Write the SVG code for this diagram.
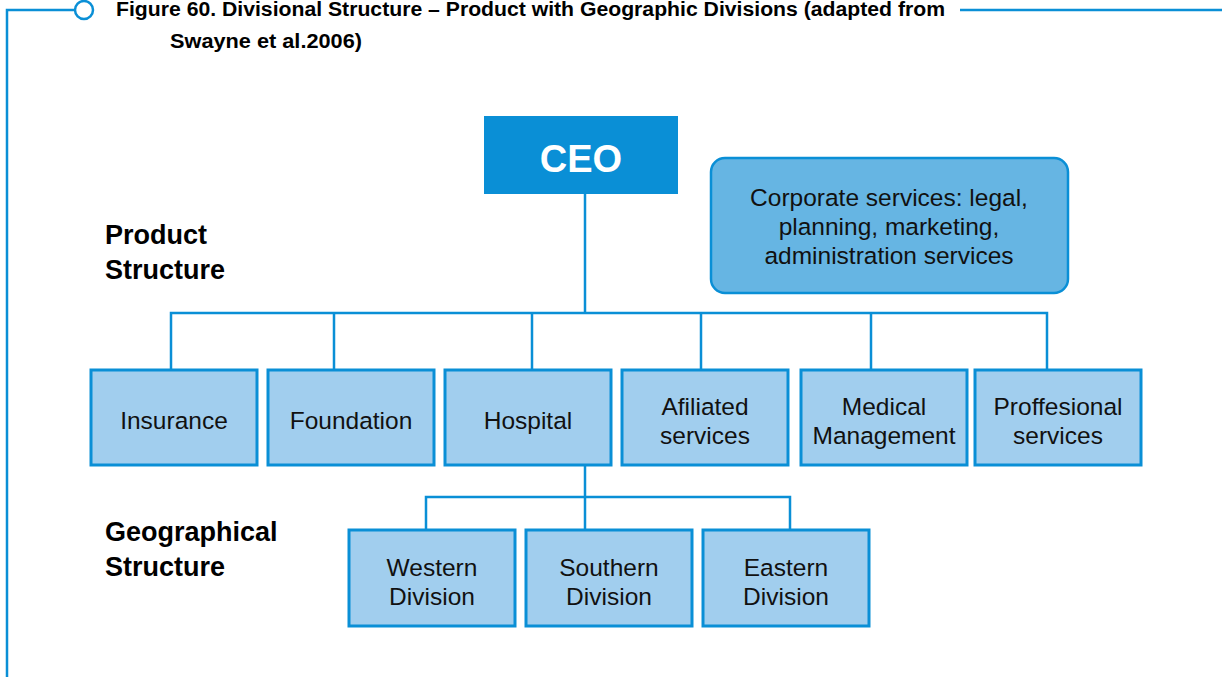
<svg xmlns="http://www.w3.org/2000/svg" width="1222" height="677" viewBox="0 0 1222 677">
<style>
.ln{stroke:#0a8fd6;stroke-width:2.5;fill:none}
.bx{fill:#a1ceee;stroke:#0a8fd6;stroke-width:3}
.t{font-family:"Liberation Sans",Arial,sans-serif;font-size:24.5px;fill:#111;text-anchor:middle}
.h{font-family:"Liberation Sans",Arial,sans-serif;font-size:27px;font-weight:bold;fill:#000}
.title{font-family:"Liberation Sans",Arial,sans-serif;font-size:20px;font-weight:bold;fill:#000}
</style>
<rect width="1222" height="677" fill="#fff"/>
<g id="frame">
<path class="ln" d="M7,677 V10 H74"/>
<circle cx="84" cy="10" r="9" fill="#fff" stroke="#0a8fd6" stroke-width="2.5"/>
<path class="ln" d="M960,10 H1222"/>
<text class="title" x="116" y="16" textLength="829" lengthAdjust="spacingAndGlyphs">Figure 60. Divisional Structure – Product with Geographic Divisions (adapted from</text>
<text class="title" x="170" y="48" textLength="192" lengthAdjust="spacingAndGlyphs">Swayne et al.2006)</text>
</g>
<g id="labels">
<text class="h" x="105" y="244">Product</text>
<text class="h" x="105" y="279">Structure</text>
<text class="h" x="105" y="541">Geographical</text>
<text class="h" x="105" y="576">Structure</text>
</g>
<g id="connectors">
<path class="ln" d="M585,194 V313"/>
<path class="ln" d="M171,370 V313 H1047 V370"/>
<path class="ln" d="M334,313 V370 M532,313 V370 M701,313 V370 M871,313 V370"/>
<path class="ln" d="M585,465 V530"/>
<path class="ln" d="M426,530 V497 H790 V530"/>
</g>
<g id="ceo">
<rect x="484" y="116" width="194" height="78" fill="#0a8fd6"/>
<text x="581" y="172" font-family="Liberation Sans,Arial,sans-serif" font-size="38" font-weight="bold" fill="#fff" text-anchor="middle">CEO</text>
</g>
<g id="corporate">
<rect x="711" y="158" width="357" height="135" rx="14" fill="#66b5e3" stroke="#0a8fd6" stroke-width="2.5"/>
<text class="t" x="889" y="206">Corporate services: legal,</text>
<text class="t" x="889" y="235">planning, marketing,</text>
<text class="t" x="889" y="264">administration services</text>
</g>
<g id="insurance"><rect class="bx" x="91" y="370" width="166" height="95"/><text class="t" x="174" y="429">Insurance</text></g>
<g id="foundation"><rect class="bx" x="268" y="370" width="166" height="95"/><text class="t" x="351" y="429">Foundation</text></g>
<g id="hospital"><rect class="bx" x="445" y="370" width="166" height="95"/><text class="t" x="528" y="429">Hospital</text></g>
<g id="affiliated"><rect class="bx" x="622" y="370" width="166" height="95"/><text class="t" x="705" y="415">Afiliated</text><text class="t" x="705" y="444">services</text></g>
<g id="medical"><rect class="bx" x="801" y="370" width="166" height="95"/><text class="t" x="884" y="415">Medical</text><text class="t" x="884" y="444">Management</text></g>
<g id="professional"><rect class="bx" x="975" y="370" width="166" height="95"/><text class="t" x="1058" y="415">Proffesional</text><text class="t" x="1058" y="444">services</text></g>
<g id="western"><rect class="bx" x="349" y="530" width="166" height="96"/><text class="t" x="432" y="576">Western</text><text class="t" x="432" y="605">Division</text></g>
<g id="southern"><rect class="bx" x="526" y="530" width="166" height="96"/><text class="t" x="609" y="576">Southern</text><text class="t" x="609" y="605">Division</text></g>
<g id="eastern"><rect class="bx" x="703" y="530" width="166" height="96"/><text class="t" x="786" y="576">Eastern</text><text class="t" x="786" y="605">Division</text></g>
</svg>
